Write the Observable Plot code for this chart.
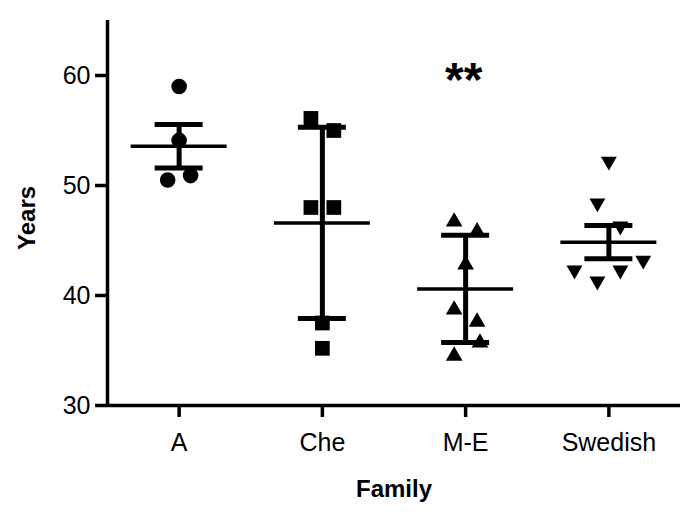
<!DOCTYPE html>
<html>
<head>
<meta charset="utf-8">
<script src="https://cdn.jsdelivr.net/npm/d3@7"></script>
<script src="https://cdn.jsdelivr.net/npm/@observablehq/plot@0.6"></script>
<style>
  html, body { margin: 0; padding: 0; background: #fff; }
  #chart { width: 700px; height: 517px; }
</style>
</head>
<body>
<div id="chart"></div>
<script>
// ---- data ----
const families = ["A", "Che", "M-E", "Swedish"];

const valuesA       = [59.0, 54.1, 50.5, 50.9];
const valuesChe     = [56.1, 55.0, 48.0, 48.0, 37.5, 35.2];
const valuesME      = [46.7, 45.8, 42.8, 38.7, 37.6, 35.7, 34.5];
const valuesSwedish = [52.2, 48.4, 46.3, 43.2, 42.3, 42.3, 41.3];

// horizontal scatter of each point within its column (column units)
const spreadA       = [0, 0, -0.08, 0.08];
const spreadChe     = [-0.08, 0.08, -0.08, 0.08, 0, 0];
const spreadME      = [-0.08, 0.08, 0, -0.08, 0.08, 0.1, -0.08];
const spreadSwedish = [0, -0.08, 0.08, 0.24, -0.24, 0.08, -0.08];

// mean line and error bar half-length per family
const means  = [53.56, 46.6, 40.6, 44.85];
const errors = [1.98, 8.7, 4.87, 1.52];

const yTicks = [30, 40, 50, 60];
const yDomain = [30, 65];

const annotations = [{family: "M-E", label: "**", value: 61}];

// ---- build tables ----
const groups = [valuesA, valuesChe, valuesME, valuesSwedish];
const spreads = [spreadA, spreadChe, spreadME, spreadSwedish];
const points = groups.flatMap((vals, i) =>
  vals.map((v, j) => ({family: families[i], i, value: v, pos: i + spreads[i][j]})));
const stats = families.map((f, i) => ({family: f, i, mean: means[i], err: errors[i]}));
const notes = annotations.map(a => ({...a, i: families.indexOf(a.family)}));

// symbols
const triangleDown = {
  draw(ctx, size) {
    const y = Math.sqrt(size / (3 * Math.sqrt(3)));
    const x = Math.sqrt(3) * y;
    ctx.moveTo(0, 2 * y);
    ctx.lineTo(x, -y);
    ctx.lineTo(-x, -y);
    ctx.closePath();
  }
};
const symbolStyle = {
  "A":       {symbol: "circle",   r: 7.8},
  "Che":     {symbol: "square",   r: 8.3},
  "M-E":     {symbol: "triangle", r: 6.2},
  "Swedish": {symbol: triangleDown, r: 5.9}
};

const font = "'Liberation Sans', Arial, Helvetica, sans-serif";
const meanHalf = 0.335, capHalf = 0.1675;

const chart = Plot.plot({
  width: 700,
  height: 517,
  marginLeft: 107,
  marginRight: 20,
  marginTop: 20,
  marginBottom: 112,
  style: {fontFamily: font, color: "black", background: "white"},
  x: {type: "linear", domain: [-0.5, families.length - 0.5]},
  y: {domain: yDomain},
  marks: [
    Plot.axisX({
      ticks: families.map((f, i) => i),
      tickFormat: i => families[i],
      tickSize: 12, tickPadding: 16,
      fontSize: 25, strokeWidth: 3.5, label: null
    }),
    Plot.axisY({
      ticks: yTicks,
      tickSize: 12, tickPadding: 5,
      fontSize: 25, strokeWidth: 3.5, label: null
    }),
    Plot.ruleY([yDomain[0]], {strokeWidth: 3.5}),
    Plot.ruleX([-0.5], {strokeWidth: 3.5}),
    // error bars
    Plot.ruleX(stats, {x: "i", y1: d => d.mean - d.err, y2: d => d.mean + d.err, strokeWidth: 5}),
    Plot.ruleY(stats, {y: d => d.mean + d.err, x1: d => d.i - capHalf, x2: d => d.i + capHalf, strokeWidth: 5}),
    Plot.ruleY(stats, {y: d => d.mean - d.err, x1: d => d.i - capHalf, x2: d => d.i + capHalf, strokeWidth: 5}),
    Plot.ruleY(stats, {y: "mean", x1: d => d.i - meanHalf, x2: d => d.i + meanHalf, strokeWidth: 3.5}),
    // points
    ...families.map(f => Plot.dot(points.filter(d => d.family === f), {
      x: "pos", y: "value",
      symbol: symbolStyle[f].symbol, r: symbolStyle[f].r,
      fill: "black", stroke: "none"
    })),
    // significance marker
    Plot.text(notes, {x: "i", y: "value", text: "label", lineAnchor: "top",
      fontSize: 48, fontWeight: "bold", fill: "black", dx: -2, dy: -3}),
    // axis titles
    Plot.text(["Family"], {frameAnchor: "bottom", lineAnchor: "bottom", dy: 91,
      fontSize: 24, fontWeight: "bold", fill: "black"}),
    Plot.text(["Years"], {frameAnchor: "left", rotate: -90, dx: -80, dy: 37,
      fontSize: 24, fontWeight: "bold", fill: "black"})
  ]
});
document.getElementById("chart").appendChild(chart);
</script>
</body>
</html>
